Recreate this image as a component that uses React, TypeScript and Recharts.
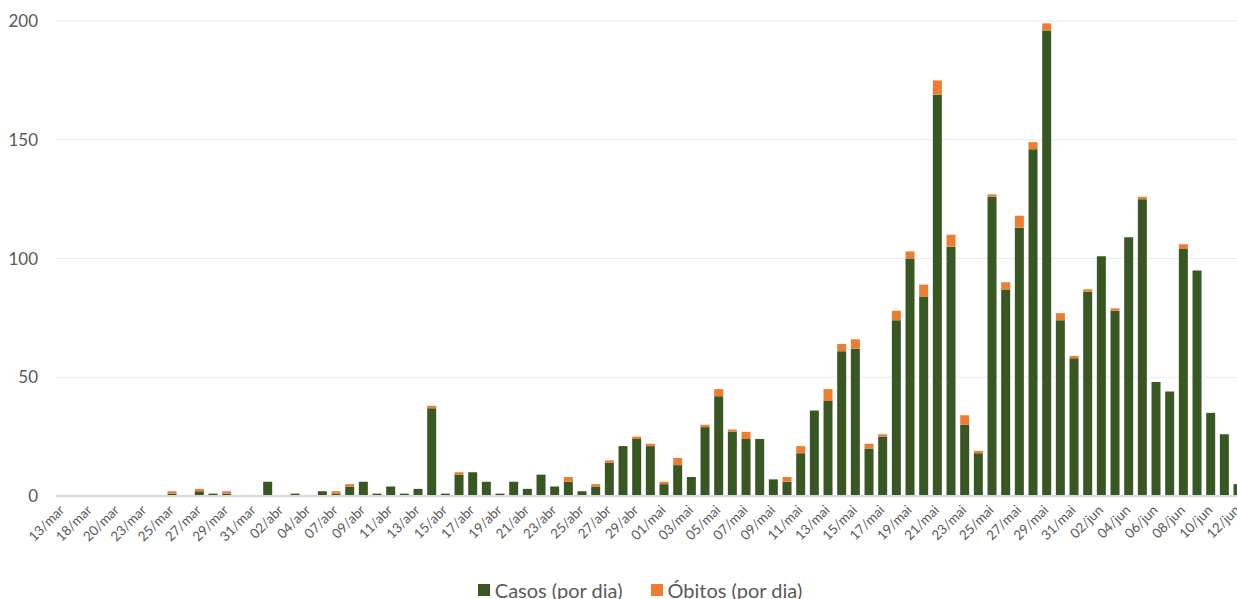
import React from 'react';
import { BarChart, Bar, XAxis, YAxis, CartesianGrid, Legend } from 'recharts';

const categories = [
  '13/mar', '17/mar', '18/mar', '19/mar', '20/mar', '22/mar', '23/mar', '24/mar', '25/mar', '26/mar',
  '27/mar', '28/mar', '29/mar', '30/mar', '31/mar', '01/abr', '02/abr', '03/abr', '04/abr', '06/abr',
  '07/abr', '08/abr', '09/abr', '10/abr', '11/abr', '12/abr', '13/abr', '14/abr', '15/abr', '16/abr',
  '17/abr', '18/abr', '19/abr', '20/abr', '21/abr', '22/abr', '23/abr', '24/abr', '25/abr', '26/abr',
  '27/abr', '28/abr', '29/abr', '30/abr', '01/mai', '02/mai', '03/mai', '04/mai', '05/mai', '06/mai',
  '07/mai', '08/mai', '09/mai', '10/mai', '11/mai', '12/mai', '13/mai', '14/mai', '15/mai', '16/mai',
  '17/mai', '18/mai', '19/mai', '20/mai', '21/mai', '22/mai', '23/mai', '24/mai', '25/mai', '26/mai',
  '27/mai', '28/mai', '29/mai', '30/mai', '31/mai', '01/jun', '02/jun', '03/jun', '04/jun', '05/jun',
  '06/jun', '07/jun', '08/jun', '09/jun', '10/jun', '11/jun', '12/jun',
];

const casos = [
  0, 0, 0, 0, 0, 0, 0, 0, 1, 0,
  2, 1, 1, 0, 0, 6, 0, 1, 0, 2,
  1, 4, 6, 1, 4, 1, 3, 37, 1, 9,
  10, 6, 1, 6, 3, 9, 4, 6, 2, 4,
  14, 21, 24, 21, 5, 13, 8, 29, 42, 27,
  24, 24, 7, 6, 18, 36, 40, 61, 62, 20,
  25, 74, 100, 84, 169, 105, 30, 18, 126, 87,
  113, 146, 196, 74, 58, 86, 101, 78, 109, 125,
  48, 44, 104, 95, 35, 26, 5,
];

const obitos = [
  0, 0, 0, 0, 0, 0, 0, 0, 1, 0,
  1, 0, 1, 0, 0, 0, 0, 0, 0, 0,
  1, 1, 0, 0, 0, 0, 0, 1, 0, 1,
  0, 0, 0, 0, 0, 0, 0, 2, 0, 1,
  1, 0, 1, 1, 1, 3, 0, 1, 3, 1,
  3, 0, 0, 2, 3, 0, 5, 3, 4, 2,
  1, 4, 3, 5, 6, 5, 4, 1, 1, 3,
  5, 3, 3, 3, 1, 1, 0, 1, 0, 1,
  0, 0, 2, 0, 0, 0, 0,
];

const yTicks = [0, 50, 100, 150, 200];

const seriesNames = { casos: 'Casos (por dia)', obitos: 'Óbitos (por dia)' };

const data = categories.map((c, i) => ({ dia: c, casos: casos[i], obitos: obitos[i] }));

const FONT = 'Lato, "Open Sans", sans-serif';
const TEXT = '#595959';

const XTick = (props: any) => {
  const { x, y, payload } = props;
  return (
    <g transform={`translate(${x + 2.5},${y + 7})`}>
      <text
        x={0}
        y={0}
        textAnchor="end"
        transform="rotate(-45)"
        fontFamily={FONT}
        fontSize={13.5}
        fill={TEXT}
      >
        {payload.value}
      </text>
    </g>
  );
};

const renderLegend = (props: any) => {
  const { payload } = props;
  return (
    <div
      style={{
        display: 'flex',
        justifyContent: 'center',
        fontFamily: FONT,
        fontSize: 20,
        lineHeight: '20px',
        color: TEXT,
      }}
    >
      {(payload || []).map((e: any, i: number) => (
        <div key={i} style={{ display: 'flex', alignItems: 'center', marginLeft: i ? 28 : 0 }}>
          <span
            style={{ display: 'inline-block', width: 12, height: 12, background: e.color, marginRight: 5 }}
          />
          <span>{e.value}</span>
        </div>
      ))}
    </div>
  );
};

export default function App() {
  return (
    <div
      style={{
        position: 'absolute',
        left: 0,
        top: 0,
        width: 1237,
        height: 599,
        overflow: 'hidden',
        background: '#fff',
      }}
    >
      <BarChart
        width={1250}
        height={599}
        data={data}
        margin={{ top: 21, right: 5, bottom: 0, left: 0 }}
        barCategoryGap="16%"
      >
        <CartesianGrid vertical={false} stroke="#ececec" strokeWidth={1.2} />
        <XAxis
          dataKey="dia"
          interval={1}
          height={103}
          tickLine={false}
          axisLine={{ stroke: '#d9d9d9', strokeWidth: 2 }}
          tick={<XTick />}
        />
        <YAxis
          width={56}
          domain={[0, 200]}
          ticks={yTicks}
          interval={0}
          axisLine={false}
          tickLine={false}
          tickMargin={12}
          tick={{ fontFamily: FONT, fontSize: 17, fill: TEXT }}
        />
        <Legend
          layout="horizontal"
          verticalAlign="middle"
          align="center"
          content={renderLegend}
          wrapperStyle={{ top: 580, left: 0, width: 1280, bottom: 'auto' }}
        />
        <Bar dataKey="casos" name={seriesNames.casos} stackId="a" fill="#385723" isAnimationActive={false} />
        <Bar dataKey="obitos" name={seriesNames.obitos} stackId="a" fill="#ED7D31" isAnimationActive={false} />
      </BarChart>
    </div>
  );
}
